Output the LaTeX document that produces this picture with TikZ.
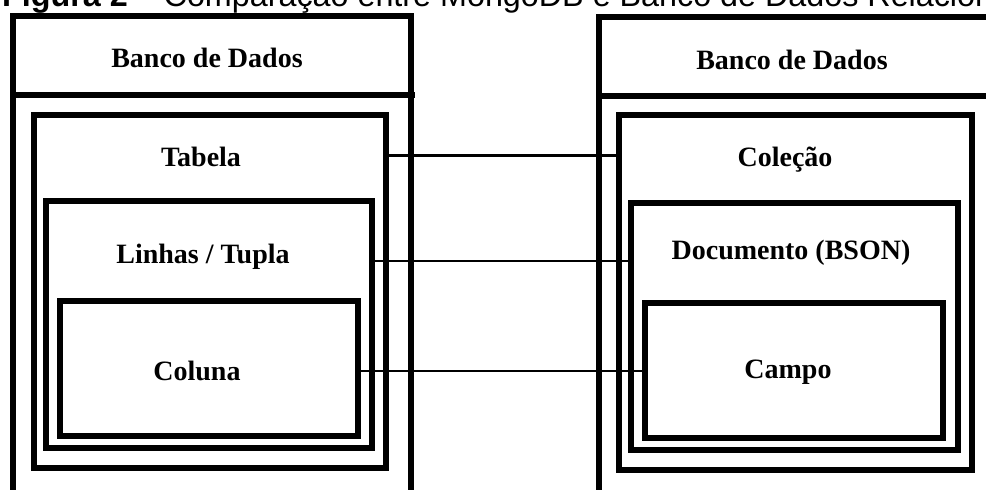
\documentclass[tikz,border=0pt]{standalone}
\usepackage{fontspec}
\setmainfont{Liberation Serif}
\newfontfamily\titlefont{Liberation Sans}
\begin{document}
\begin{tikzpicture}[x=1pt,y=-1pt,
  frame/.style={draw, line width=6pt, inner sep=0pt, outer sep=0pt},
  lbl/.style={font=\fontsize{28}{30}\selectfont\bfseries, inner sep=0pt, anchor=base},
  link/.style={line width=2.8pt}]
\useasboundingbox (0,0) rectangle (986,490);
\clip (0,0) rectangle (986,490);
% title (cropped at the top in the reference)
\node[font=\titlefont\fontsize{32.3}{34}\selectfont, anchor=base west, inner sep=0pt] (title) at (2,6)
  {\textbf{Figura 2} – Comparação entre MongoDB e Banco de Dados Relacional};
% left: relational
\node[frame, minimum width=398pt, minimum height=79pt] (hdrL) at (212,55.5) {};
\node[frame, minimum width=398pt, minimum height=425pt] (dbL) at (212,307.5) {};
\draw[line width=6pt] (hdrL.south west) -- ([xshift=4pt]hdrL.south east);
\node[frame, minimum width=352pt, minimum height=353pt] (tab) at (210,291.5) {};
\node[frame, minimum width=326pt, minimum height=247pt] (lin) at (209,324.5) {};
\node[frame, minimum width=298pt, minimum height=135pt] (colu) at (209,368.5) {};
\node[lbl] (tL) at (207,67) {Banco de Dados};
\node[lbl] (tTab) at (201,166) {Tabela};
\node[lbl] (tLin) at (203,263) {Linhas / Tupla};
\node[lbl] (tCol) at (197,380) {Coluna};
% right: MongoDB
\node[frame, minimum width=411pt, minimum height=79pt] (hdrR) at (804.5,56.5) {};
\node[frame, minimum width=411pt, minimum height=424pt] (dbR) at (804.5,308) {};
\node[frame, minimum width=353pt, minimum height=355pt] (cole) at (795.5,292.5) {};
\node[frame, minimum width=327pt, minimum height=247pt] (doc) at (794.5,326.5) {};
\node[frame, minimum width=298pt, minimum height=135pt] (campo) at (794,370.5) {};
\node[lbl] (tR) at (792,69) {Banco de Dados};
\node[lbl] (tCole) at (785,166) {Coleção};
\node[lbl] (tDoc) at (791,259) {Documento (BSON)};
\node[lbl] (tCampo) at (788,378) {Campo};
% connectors
\coordinate (y1) at (0,155.5);
\coordinate (y2) at (0,261);
\coordinate (y3) at (0,371);
\draw[link] (tab.east |- y1) -- (cole.west |- y1);
\draw[link] (lin.east |- y2) -- (doc.west |- y2);
\draw[link] (colu.east |- y3) -- (campo.west |- y3);
\end{tikzpicture}
\end{document}
